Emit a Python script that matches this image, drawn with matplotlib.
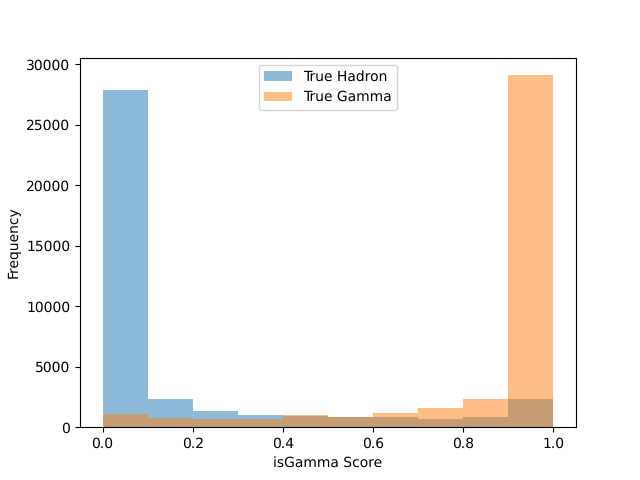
import matplotlib
matplotlib.use("Agg")
import matplotlib.pyplot as plt

bin_edges = [0.0, 0.1, 0.2, 0.3, 0.4, 0.5, 0.6, 0.7, 0.8, 0.9, 1.0]
bin_lefts = bin_edges[:-1]
hadron = [27850, 2310, 1320, 1000, 900, 830, 830, 660, 830, 2310]
gamma = [1100, 770, 660, 660, 1000, 830, 1150, 1570, 2310, 29100]

plt.rcParams['font.size'] = 10
plt.rcParams['text.hinting'] = 'none'
plt.rcParams['text.hinting_factor'] = 8
fig, ax = plt.subplots(figsize=(6.4, 4.8), dpi=100)
ax.hist(bin_lefts, bins=bin_edges, weights=hadron, alpha=0.5, label="True Hadron")
ax.hist(bin_lefts, bins=bin_edges, weights=gamma, alpha=0.5, label="True Gamma")
ax.set_xlabel("isGamma Score")
ax.set_ylabel("Frequency")
ax.legend(loc="upper center")
fig.savefig("out.png", dpi=100)
